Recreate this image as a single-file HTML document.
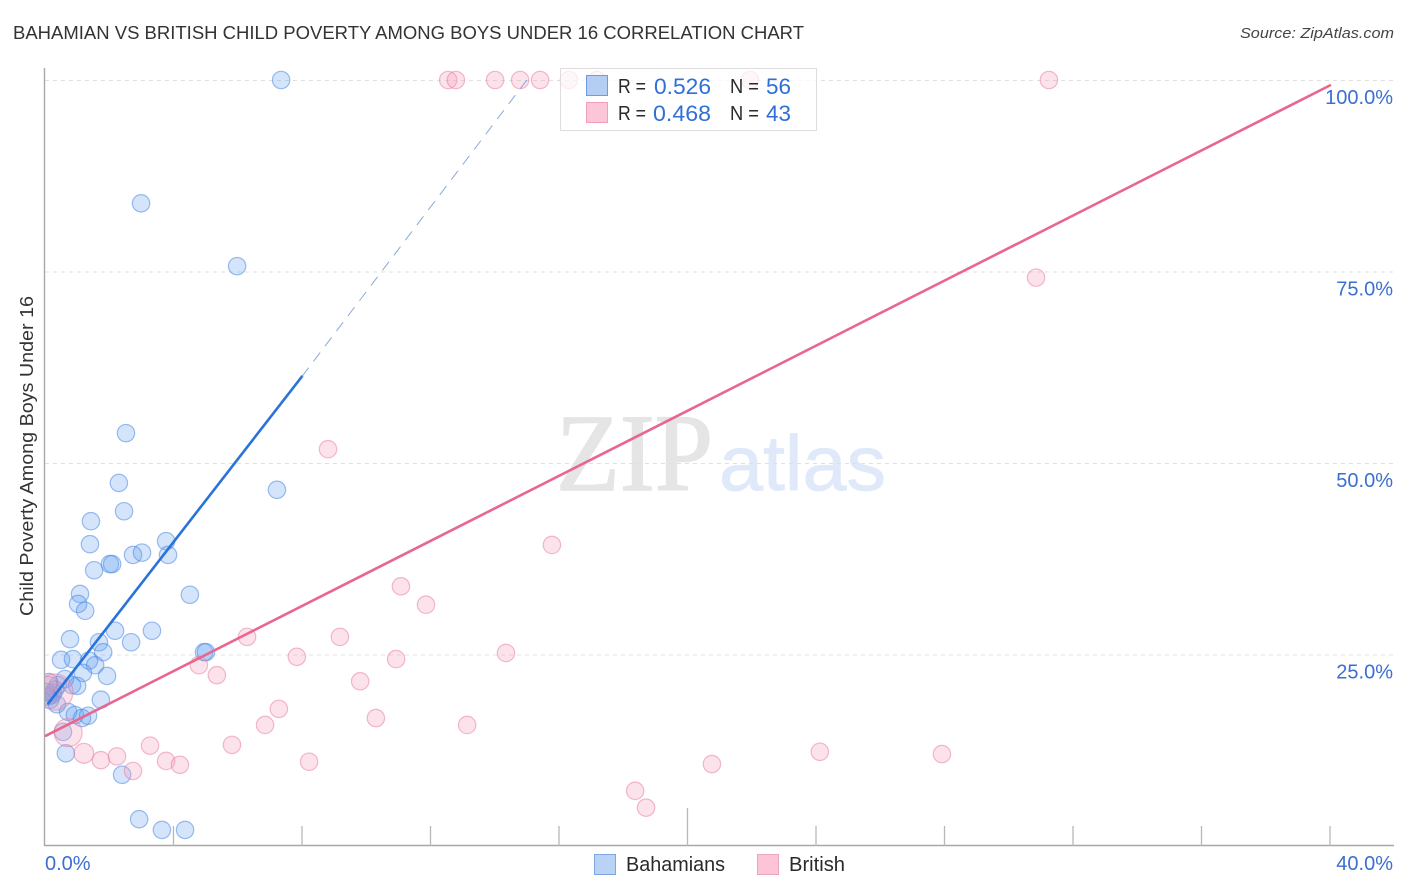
<!DOCTYPE html>
<html lang="en">
<head>
<meta charset="utf-8">
<title>Bahamian vs British Child Poverty Among Boys Under 16 Correlation Chart</title>
<style>
html,body{margin:0;padding:0;background:#fff;width:1406px;height:892px;overflow:hidden}
svg{display:block;font-family:"Liberation Sans",sans-serif}
</style>
</head>
<body>
<svg id="chart" width="1406" height="892" viewBox="0 0 1406 892" xmlns="http://www.w3.org/2000/svg">
  <defs>
    <clipPath id="plot-clip"><rect x="45" y="60" width="1349" height="786"/></clipPath>
  </defs>
  <text x="13" y="39" font-size="18.5" fill="#333" textLength="791" lengthAdjust="spacingAndGlyphs">BAHAMIAN VS BRITISH CHILD POVERTY AMONG BOYS UNDER 16 CORRELATION CHART</text>
  <text x="1394" y="38" font-size="15" font-style="italic" fill="#444" text-anchor="end" textLength="154" lengthAdjust="spacingAndGlyphs">Source: ZipAtlas.com</text>
  <text transform="translate(33,456) rotate(-90)" font-size="18.5" fill="#333" text-anchor="middle" textLength="320" lengthAdjust="spacingAndGlyphs">Child Poverty Among Boys Under 16</text>
  <g>
    <text x="556" y="490" font-family="'Liberation Serif',serif" font-size="110" fill="#e5e5e5" stroke="#e5e5e5" stroke-width="1.5" textLength="157" lengthAdjust="spacingAndGlyphs">ZIP</text>
    <text x="719" y="490" font-size="78" fill="#dfe9f9" stroke="#dfe9f9" stroke-width="0.8" textLength="167" lengthAdjust="spacingAndGlyphs">atlas</text>
  </g>
  <g id="grid"></g>
  <g id="axes"></g>
  <g clip-path="url(#plot-clip)">
    <g id="marks-blue"></g>
    <g id="marks-pink"></g>
    <g id="trends"></g>
  </g>
  <g>
    <rect x="560.5" y="68.5" width="256" height="62" fill="#fff" fill-opacity="0.72" stroke="#dddddd"/>
    <rect x="586.5" y="75.5" width="21" height="20" fill="#b4cdf2" stroke="#6f9be0"/>
    <rect x="586.5" y="102.5" width="21" height="20" fill="#fcc6d8" stroke="#f0a0ba"/>
    <text x="618" y="93" font-size="20" fill="#2a2a2a" textLength="28" lengthAdjust="spacingAndGlyphs">R =</text>
    <text x="654" y="94" font-size="22" fill="#2f6fd6" textLength="57" lengthAdjust="spacingAndGlyphs">0.526</text>
    <text x="730" y="93" font-size="20" fill="#2a2a2a" textLength="29" lengthAdjust="spacingAndGlyphs">N =</text>
    <text x="766" y="94" font-size="22" fill="#2f6fd6" textLength="25" lengthAdjust="spacingAndGlyphs">56</text>
    <text x="618" y="120" font-size="20" fill="#2a2a2a" textLength="28" lengthAdjust="spacingAndGlyphs">R =</text>
    <text x="653" y="121" font-size="22" fill="#2f6fd6" textLength="58" lengthAdjust="spacingAndGlyphs">0.468</text>
    <text x="730" y="120" font-size="20" fill="#2a2a2a" textLength="29" lengthAdjust="spacingAndGlyphs">N =</text>
    <text x="766" y="121" font-size="22" fill="#2f6fd6" textLength="25" lengthAdjust="spacingAndGlyphs">43</text>
  </g>
  <g>
    <rect x="594.5" y="854.5" width="21" height="20" fill="#b9d3f6" stroke="#7da6e2"/>
    <text x="626" y="871" font-size="20" fill="#2a2a2a" textLength="99" lengthAdjust="spacingAndGlyphs">Bahamians</text>
    <rect x="757.5" y="854.5" width="21" height="20" fill="#fdc4d8" stroke="#eda6bf"/>
    <text x="789" y="871" font-size="20" fill="#2a2a2a" textLength="56" lengthAdjust="spacingAndGlyphs">British</text>
  </g>
</svg>
<script>
const bahamiansX = [7.35,2.99,5.98,2.52,7.22,2.30,2.46,1.43,1.40,1.53,2.02,2.09,2.74,3.02,3.77,3.83,1.09,1.03,1.25,4.51,0.78,1.68,2.18,2.68,3.33,1.81,0.50,0.87,1.37,1.56,1.18,1.93,4.95,5.01,0.62,0.40,0.84,1.00,1.74,0.12,0.31,0.22,0.16,0.25,0.37,0.09,0.03,0.72,0.93,1.15,1.34,0.56,0.65,2.40,2.93,3.64,4.36];
const bahamiansY = [100,83.9,75.7,53.9,46.5,47.4,43.7,42.4,39.4,36.0,36.8,36.8,38.0,38.3,39.8,38.0,32.9,31.6,30.7,32.8,27.0,26.6,28.1,26.6,28.1,25.3,24.3,24.4,24.2,23.6,22.6,22.2,25.3,25.3,21.8,21.0,21.0,20.9,19.1,21.4,20.4,19.7,19.1,20.0,18.5,19.5,20.1,17.5,17.1,16.7,17.0,14.9,12.1,9.3,3.5,2.1,2.1];
const britishX = [12.55,12.79,14.01,14.79,15.41,16.31,17.18,21.95,31.25,30.85,8.81,15.78,11.08,11.86,6.29,9.18,7.84,4.79,5.35,14.35,10.93,9.81,7.28,6.85,10.30,13.14,5.82,3.27,1.21,1.74,2.24,2.74,3.77,4.20,8.22,20.76,24.12,27.92,18.37,18.71,0.72,0.31,0.10];
const britishY = [100,100,100,100,100,100,100,100,100,74.2,51.8,39.3,33.9,31.5,27.3,27.3,24.7,23.6,22.3,25.2,24.4,21.5,17.9,15.8,16.7,15.8,13.2,13.1,12.1,11.2,11.7,9.8,11.1,10.6,11.0,10.7,12.3,12.0,7.2,5.0,14.8,20.1,21.0];
const britishWeight = [1,1,1,1,1,1,1,1,1,1,1,1,1,1,1,1,1,1,1,1,1,1,1,1,1,1,1,1,1.3,1,1,1,1,1,1,1,1,1,1,1,2.6,4.3,1];
const trendBahamiansX = [0.1,8.0];
const trendBahamiansY = [18.6,61.3];
const trendBahamiansExtX = [8.0,15.0];
const trendBahamiansExtY = [61.3,100];
const trendBritishX = [0.03,40];
const trendBritishY = [14.4,99.3];
const xTickValues = [4,8,12,16,20,24,28,32,36,40];
const xTickLabels = ["0.0%","40.0%"];
const xTickLabelValues = [0,40];
const yTickValues = [25,50,75,100];
const yTickLabels = ["25.0%","50.0%","75.0%","100.0%"];

const NS = "http://www.w3.org/2000/svg";
const X0 = 45, X1 = 1330, Y0 = 846, Y100 = 80;
const sx = v => X0 + v * (X1 - X0) / 40;
const sy = v => Y0 - v * (Y0 - Y100) / 100;
const rs = w => 8.7 * Math.sqrt(w);
function mk(parent, tag, props){
  const e = document.createElementNS(NS, tag);
  for (const k in props) e.setAttribute(k, props[k]);
  parent.appendChild(e);
  return e;
}
const grid = document.getElementById("grid");
const axes = document.getElementById("axes");
const blue = document.getElementById("marks-blue");
const pink = document.getElementById("marks-pink");
const trends = document.getElementById("trends");

yTickValues.forEach((v, i) => {
  const g = mk(grid, "line", {x1:X0, x2:1394, y1:sy(v)+0.5, y2:sy(v)+0.5, stroke:"#e0e0e0", "stroke-width":1, "stroke-dasharray":"4 4"});
  
  
  const t = mk(axes, "text", {x:1393, y:sy(v)+24, "font-size":20, fill:"#3b6fd0", "text-anchor":"end"});
  t.textContent = yTickLabels[i];
  
  
});

const axisY = mk(axes, "line", {x1:44.5, x2:44.5, y1:68, y2:846, stroke:"#a8a8a8", "stroke-width":1.4});


const axisX = mk(axes, "line", {x1:44, x2:1394, y1:845.5, y2:845.5, stroke:"#a8a8a8", "stroke-width":1.4});



xTickValues.forEach(v => {
  const top = v === 20 ? 808 : 826;
  const tk = mk(axes, "line", {x1:sx(v), x2:sx(v), y1:top, y2:846, stroke:"#b8b8b8", "stroke-width":1.3});
  
  
});
xTickLabelValues.forEach((v, i) => {
  const t = mk(axes, "text", {x: i === 0 ? sx(v) : 1393, y:870, "font-size":20, fill:"#3b6fd0", "text-anchor": i === 0 ? "start" : "end"});
  t.textContent = xTickLabels[i];
  
  
});

bahamiansX.forEach((v, i) => {
  const c = mk(blue, "circle", {cx:sx(v), cy:sy(bahamiansY[i]), r:rs(1), fill:"#5c9cf0", "fill-opacity":0.27, stroke:"#4f8be0", "stroke-opacity":0.55, "stroke-width":1.2});
  
  
});
britishX.forEach((v, i) => {
  const c = mk(pink, "circle", {cx:sx(v), cy:sy(britishY[i]), r:rs(britishWeight[i]), fill:"#f4a0b8", "fill-opacity":0.3, stroke:"#e8799c", "stroke-opacity":0.5, "stroke-width":1.2});
  
  
});

const t1 = mk(trends, "line", {x1:sx(trendBahamiansX[0]), y1:sy(trendBahamiansY[0]), x2:sx(trendBahamiansX[1]), y2:sy(trendBahamiansY[1]), stroke:"#2a73d8", "stroke-width":2.6, "stroke-linecap":"round"});


const t2 = mk(trends, "line", {x1:sx(trendBahamiansExtX[0]), y1:sy(trendBahamiansExtY[0]), x2:sx(trendBahamiansExtX[1]), y2:sy(trendBahamiansExtY[1]), stroke:"#8aa8dc", "stroke-width":1, "stroke-dasharray":"11 8"});


const t3 = mk(trends, "line", {x1:sx(trendBritishX[0]), y1:sy(trendBritishY[0]), x2:sx(trendBritishX[1]), y2:sy(trendBritishY[1]), stroke:"#e8668f", "stroke-width":2.6, "stroke-linecap":"round"});


</script>
</body>
</html>
